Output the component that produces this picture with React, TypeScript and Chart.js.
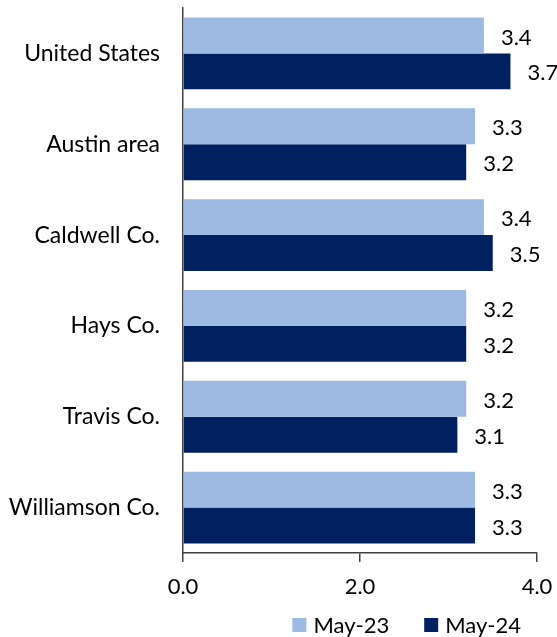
import React, { useEffect, useRef } from "react";
import { Chart, registerables } from "chart.js";

Chart.register(...registerables);

const categories = ["United States", "Austin area", "Caldwell Co.", "Hays Co.", "Travis Co.", "Williamson Co."];
const may23 = [3.4, 3.3, 3.4, 3.2, 3.2, 3.3];
const may24 = [3.7, 3.2, 3.5, 3.2, 3.1, 3.3];
const seriesNames = ["May-23", "May-24"];
const seriesColors = ["#9DBAE3", "#00205F"];
const xTicks = [0, 2, 4];

const FONT = "Lato, 'Open Sans', sans-serif";
const FS = 22;

const valueLabels = {
  id: "valueLabels",
  afterDatasetsDraw(chart: any) {
    const ctx = chart.ctx;
    ctx.save();
    ctx.font = `${FS}px ${FONT}`;
    ctx.fillStyle = "#000000";
    ctx.textAlign = "left";
    ctx.textBaseline = "middle";
    chart.data.datasets.forEach((ds: any, i: number) => {
      const meta = chart.getDatasetMeta(i);
      meta.data.forEach((bar: any, j: number) => {
        ctx.fillText(Number(ds.data[j]).toFixed(1), bar.x + 17, bar.y + 2);
      });
    });
    ctx.restore();
  },
};

const bottomLegend = {
  id: "bottomLegend",
  afterDraw(chart: any) {
    const ctx = chart.ctx;
    ctx.save();
    ctx.font = `${FS}px ${FONT}`;
    ctx.textBaseline = "middle";
    ctx.textAlign = "left";
    const box = 14;
    const gapBoxText = 7;
    const gapItems = 35;
    const items = chart.data.datasets.map((ds: any) => ({
      text: ds.label,
      color: ds.backgroundColor,
      w: ctx.measureText(ds.label).width,
    }));
    const total = items.reduce((s: number, it: any) => s + box + gapBoxText + it.w, 0) + gapItems * (items.length - 1);
    let x = chart.chartArea.right - 16 - total;
    const y = chart.height - 12;
    items.forEach((it: any) => {
      ctx.fillStyle = it.color;
      ctx.fillRect(x, y - box / 2, box, box);
      x += box + gapBoxText;
      ctx.fillStyle = "#000000";
      ctx.fillText(it.text, x, y + 1);
      x += it.w + gapItems;
    });
    ctx.restore();
  },
};

export default function App() {
  const ref = useRef<HTMLCanvasElement | null>(null);
  useEffect(() => {
    document.body.style.margin = "0";
    if (!ref.current) return;
    const chart = new Chart(ref.current, {
      type: "bar",
      data: {
        labels: categories,
        datasets: [
          { label: seriesNames[0], data: may23, backgroundColor: seriesColors[0], categoryPercentage: 0.79, barPercentage: 1 },
          { label: seriesNames[1], data: may24, backgroundColor: seriesColors[1], categoryPercentage: 0.79, barPercentage: 1 },
        ],
      },
      options: {
        indexAxis: "y",
        animation: false,
        responsive: false,
        maintainAspectRatio: false,
        layout: { padding: { top: 8, right: 20, left: 0, bottom: 40 } },
        scales: {
          x: {
            min: 0,
            max: 4,
            afterBuildTicks(scale: any) {
              scale.ticks = xTicks.map((v) => ({ value: v }));
            },
            afterFit(scale: any) {
              scale.height = 44;
              scale.paddingLeft = 0;
              scale.paddingRight = 0;
            },
            ticks: {
              font: { family: FONT, size: FS },
              color: "#000000",
              padding: 12,
              maxRotation: 0,
              callback: (v: any) => Number(v).toFixed(1),
            },
            grid: { drawOnChartArea: false, drawTicks: true, tickLength: 9, color: "#404040", lineWidth: 1.5 },
            border: { display: true, color: "#404040", width: 1.5 },
          },
          y: {
            afterFit(scale: any) {
              scale.width = 183;
              scale.paddingTop = 0;
              scale.paddingBottom = 0;
            },
            ticks: { font: { family: FONT, size: 23 }, color: "#000000", padding: 23 },
            grid: { display: false, drawTicks: false },
            border: { display: true, color: "#404040", width: 1.5 },
          },
        },
        plugins: {
          legend: { display: false },
          tooltip: { enabled: false },
        },
      },
      plugins: [valueLabels, bottomLegend],
    });
    return () => chart.destroy();
  }, []);
  return <canvas ref={ref} width={557} height={637} style={{ display: "block" }} />;
}
